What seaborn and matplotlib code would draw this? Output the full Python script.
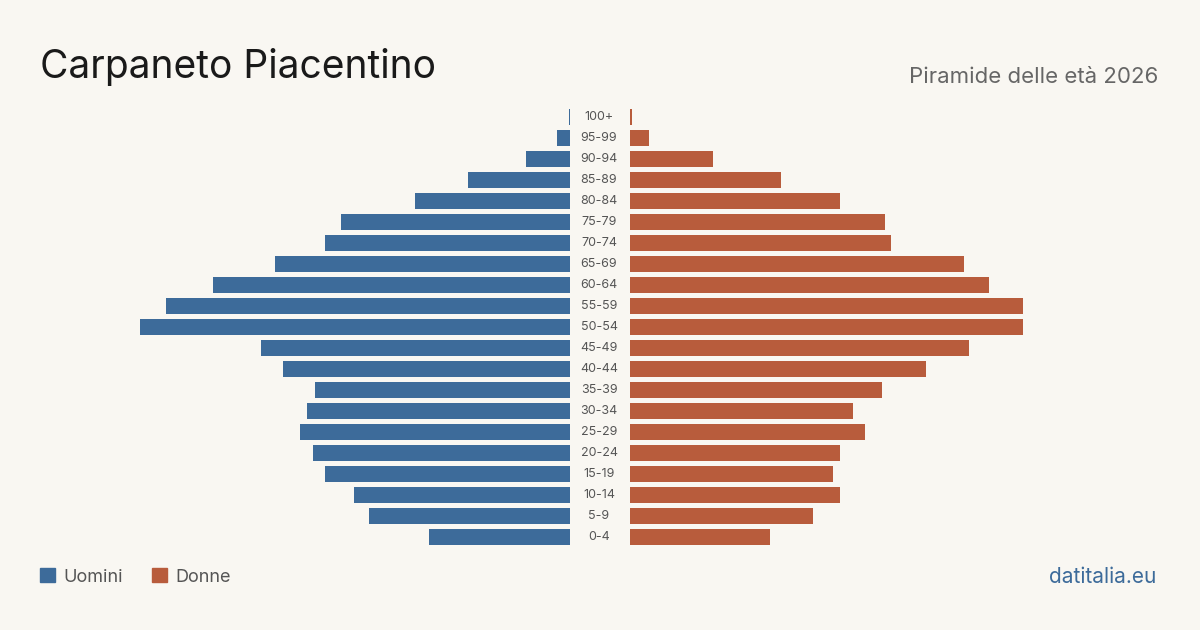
import pandas as pd
import seaborn as sns
import matplotlib.pyplot as plt
import matplotlib.patches as mpatches

AGES = ["100+", "95-99", "90-94", "85-89", "80-84", "75-79", "70-74", "65-69",
        "60-64", "55-59", "50-54", "45-49", "40-44", "35-39", "30-34", "25-29",
        "20-24", "15-19", "10-14", "5-9", "0-4"]
MEN = [1, 13, 44, 102, 155, 229, 245, 295, 357, 404, 430, 309, 287, 255, 263,
       270, 257, 245, 216, 201, 141]
WOMEN = [2, 19, 83, 151, 210, 255, 261, 334, 359, 393, 393, 339, 296, 252, 223,
         235, 210, 203, 210, 183, 140]

BG = "#f9f7f2"
BLUE = "#3d6b9a"
ORANGE = "#b85c3c"

sns.set_theme(style="white")
plt.rcParams["font.family"] = ["Inter", "DejaVu Sans"]

df = pd.DataFrame({"age": AGES, "men": MEN, "women": WOMEN})

W, H = 1200, 630
fig = plt.figure(figsize=(12, 6.3), dpi=100, facecolor=BG)
bottom = (H - 547.5) / H
height = 441 / H
ax_l = fig.add_axes([140 / W, bottom, 430 / W, height])
ax_r = fig.add_axes([630 / W, bottom, 430 / W, height])

sns.barplot(data=df, y="age", x="men", orient="h", color=BLUE, width=0.8,
            saturation=1, linewidth=0, ax=ax_l)
sns.barplot(data=df, y="age", x="women", orient="h", color=ORANGE, width=0.8,
            saturation=1, linewidth=0, ax=ax_r)
ax_l.set_xlim(430, 0)
ax_r.set_xlim(0, 430)

for ax in (ax_l, ax_r):
    ax.set_facecolor(BG)
    ax.axis("off")
    ax.set_ylim(len(AGES) - 0.5, -0.5)

for i, age in enumerate(AGES):
    ax_r.text(-31, i, age, ha="center", va="center", fontsize=9,
              color="#555555", clip_on=False)

fig.text(40 / W, 1 - 67 / H, "Carpaneto Piacentino", fontsize=28,
         color="#1a1a1a", va="center")
fig.text(1158 / W, 1 - 77 / H, "Piramide delle età 2026", fontsize=16,
         color="#666666", ha="right", va="center")
fig.text(1156 / W, 1 - 577 / H, "datitalia.eu", fontsize=15,
         color=BLUE, ha="right", va="center")

handles = [mpatches.Patch(color=BLUE, label="Uomini"),
           mpatches.Patch(color=ORANGE, label="Donne")]
fig.legend(handles=handles, loc="center left",
           bbox_to_anchor=(24 / W, 1 - 577 / H), ncol=2, frameon=False,
           fontsize=13, handlelength=0.8, handleheight=0.8,
           handletextpad=0.5, columnspacing=1.6, labelcolor="#555555")

fig.savefig("out.png", dpi=100, facecolor=BG)
